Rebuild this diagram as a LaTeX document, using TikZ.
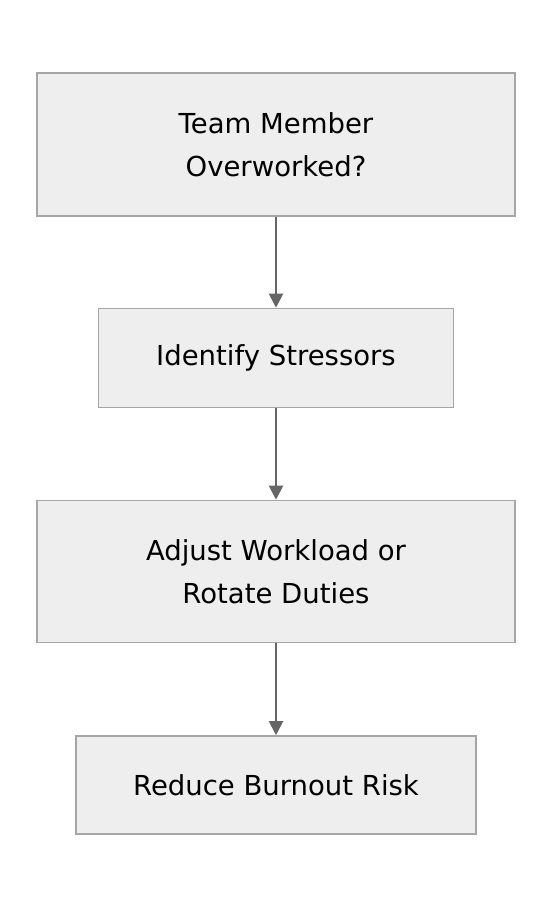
\documentclass[tikz,border=0pt]{standalone}
\usepackage{fontspec}
\setmainfont{DejaVu Sans}
\usetikzlibrary{positioning, arrows.meta}
\definecolor{boxfill}{HTML}{EEEEEE}
\definecolor{boxline}{HTML}{A6A6A6}
\definecolor{arrowgrey}{HTML}{666666}

\begin{document}
\begin{tikzpicture}
    [
        x=0.5pt, y=-0.5pt,
        node distance=106.75pt, on grid,
        step_box/.style={rectangle, draw=boxline, fill=boxfill, line width=0.8pt, align=center, font=\fontsize{13.75pt}{21.5pt}\selectfont},
        flow_arrow/.style={-{Triangle[length=7pt, width=7pt]}, line width=1pt, color=arrowgrey},
    ]
        \useasboundingbox (0,0) rectangle (552,908) ;
        \node[step_box, minimum width=239pt, minimum height=71.5pt] (overworked) at (276,144.5) {Team Member\\Overworked?} ;
        \node[step_box, minimum width=177.5pt, minimum height=49.5pt] (stressors) [below = of overworked] {Identify Stressors} ;
        \node[step_box, minimum width=239pt, minimum height=71pt] (adjust) [below = of stressors] {Adjust Workload or\\Rotate Duties} ;
        \node[step_box, minimum width=200pt, minimum height=49pt] (reduce) [below = of adjust] {Reduce Burnout Risk} ;
        \draw[flow_arrow] (overworked) -- (stressors) ;
        \draw[flow_arrow] (stressors) -- (adjust) ;
        \draw[flow_arrow] (adjust) -- (reduce) ;
    \end{tikzpicture}
\end{document}
